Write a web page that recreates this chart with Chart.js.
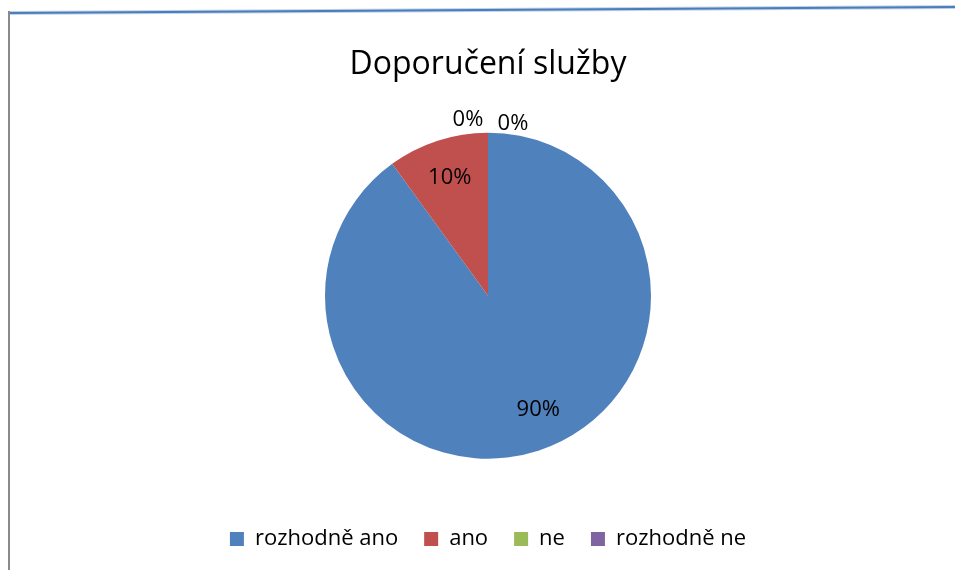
<!DOCTYPE html>
<html>
<head>
<meta charset="utf-8">
<script src="https://cdn.jsdelivr.net/npm/chart.js@4.4.1/dist/chart.umd.min.js"></script>
<style>
	html, body { margin:0; padding:0; background:#fff; }
	#wrap { width:955px; height:570px; position:relative; }
</style>
</head>
<body>
<div id="wrap"><canvas id="pie"></canvas></div>
<script>
var chartTitle = "Doporučení služby";
var categories = ["rozhodně ano", "ano", "ne", "rozhodně ne"];
var values = [90, 10, 0, 0];
var sliceColors = ["#4F81BD", "#C0504D", "#9BBB59", "#8064A2"];

var fontName = "'Open Sans', 'Liberation Sans', sans-serif";

// frame lines like the original office chart
var frame = {
	id: "frame",
	beforeDraw: function(chart) {
		var ctx = chart.ctx;
		ctx.save();
		ctx.strokeStyle = "rgba(79,129,189,0.35)";
		ctx.lineWidth = 4;
		ctx.beginPath(); ctx.moveTo(9, 13); ctx.lineTo(955, 7); ctx.stroke();
		ctx.strokeStyle = "#4A7DBB";
		ctx.lineWidth = 2;
		ctx.beginPath(); ctx.moveTo(9, 13); ctx.lineTo(955, 7); ctx.stroke();
		ctx.strokeStyle = "#8A8A8A";
		ctx.lineWidth = 2;
		ctx.beginPath(); ctx.moveTo(9, 11); ctx.lineTo(9, 570); ctx.stroke();
		ctx.restore();
	}
};

// percentage labels
var pctLabels = {
	id: "pctLabels",
	afterDatasetsDraw: function(chart) {
		var ctx = chart.ctx;
		var meta = chart.getDatasetMeta(0);
		var total = values.reduce(function(a, b){ return a + b; }, 0);
		var zeroIdx = 0;
		ctx.save();
		ctx.font = "22px " + fontName;
		ctx.fillStyle = "#000";
		ctx.textAlign = "center";
		ctx.textBaseline = "middle";
		meta.data.forEach(function(arc, i) {
			var p = arc.getProps(["x", "y", "startAngle", "endAngle", "outerRadius"], true);
			var txt = Math.round(values[i] / total * 100) + "%";
			var x, y;
			if (values[i] > 0) {
				var mid = (p.startAngle + p.endAngle) / 2;
				var d = p.outerRadius * 0.76;
				x = p.x + Math.cos(mid) * d;
				y = p.y + Math.sin(mid) * d;
				if (i == 0) { x += 12; y -= 4; } // best-fit nudge
			} else {
				var side = zeroIdx == 0 ? -1 : 1;
				x = p.x + side * (zeroIdx == 0 ? 20 : 25);
				y = p.y - p.outerRadius - (zeroIdx == 0 ? 13 : 9);
				zeroIdx++;
			}
			ctx.fillText(txt, x, y);
		});
		ctx.restore();
	}
};

new Chart(document.getElementById("pie"), {
	type: "pie",
	data: {
		labels: categories,
		datasets: [{
			data: values,
			backgroundColor: sliceColors,
			borderWidth: 0,
			radius: 163
		}]
	},
	options: {
		responsive: true,
		maintainAspectRatio: false,
		animation: false,
		layout: { padding: { top: 20, left: 21, right: 0, bottom: 10 } },
		plugins: {
			title: {
				display: true,
				text: chartTitle,
				color: "#000",
				font: { family: fontName, size: 32, weight: "normal" },
				padding: { top: 26, bottom: 5 }
			},
			legend: {
				position: "bottom",
				labels: {
					boxWidth: 14,
					boxHeight: 14,
					padding: 26,
					color: "#000",
					font: { family: fontName, size: 22 }
				}
			},
			tooltip: { enabled: false }
		}
	},
	plugins: [frame, pctLabels]
});
</script>
</body>
</html>
